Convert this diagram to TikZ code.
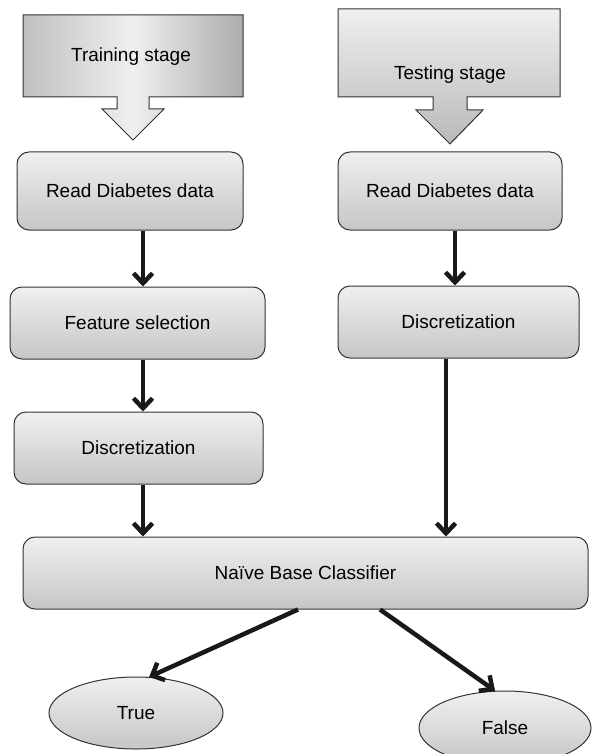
\documentclass[tikz,border=0pt]{standalone}
\usepackage{fontspec}
\setmainfont{Liberation Sans}
\usetikzlibrary{arrows.meta, positioning, shapes.geometric}

\begin{document}
\begin{tikzpicture}[x=1pt, y=-1pt,
    every node/.style={font=\fontsize{19}{22}\selectfont},
    procbox/.style={rectangle, rounded corners=12pt, draw=black!80, line width=1pt, top color=gray!12, bottom color=gray!45},
    endbox/.style={ellipse, draw=black!80, line width=1pt, top color=gray!12, bottom color=gray!45},
    stagebox/.style={draw=black!80, line width=1pt},
    flow/.style={line width=4.5pt, draw=black!90, -{Straight Barb[length=10pt,width=19pt]}}]
    \useasboundingbox (0,0) rectangle (591,754);

    % stage callouts
    \draw[stagebox, left color=gray!50, right color=gray!65, middle color=gray!12]
        (23,15) -- (243,15) -- (243,97) -- (149,97) -- (149,109) -- (164,109) -- (133,140)
        -- (102,109) -- (117,109) -- (117,97) -- (23,97) -- cycle;
    \draw[stagebox, top color=gray!12, bottom color=gray!55]
        (338,9) -- (560,9) -- (560,97) -- (467,97) -- (467,110) -- (483,110) -- (450,144)
        -- (416,110) -- (433,110) -- (433,97) -- (338,97) -- cycle;
    \node (train) at (131,57) {Training stage};
    \node (test) at (450,75) {Testing stage};

    % process boxes
    \node[procbox, minimum width=226, minimum height=78] (read1) at (130,191) {Read Diabetes data};
    \node[procbox, minimum width=224, minimum height=78] (read2) at (450,191) {Read Diabetes data};
    \node[procbox, minimum width=255, minimum height=72] (feat) at (137.5,323) {Feature selection};
    \node[procbox, minimum width=241, minimum height=72] (disc2) at (458.5,322) {Discretization};
    \node[procbox, minimum width=249, minimum height=72] (disc1) at (138.5,448) {Discretization};
    \node[procbox, minimum width=565, minimum height=72] (nbc) at (305.5,573) {Naïve Base Classifier};

    % outcomes
    \node[endbox, minimum width=174, minimum height=72] (true) at (136,713) {True};
    \node[endbox, minimum width=172, minimum height=74] (false) at (505,728) {False};

    \draw[flow] (read1.south -| 143,0) -- (feat.north -| 143,0);
    \draw[flow] (feat.south -| 143,0) -- (disc1.north -| 143,0);
    \draw[flow] (disc1.south -| 143,0) -- (nbc.north -| 143,0);
    \draw[flow] (read2.south -| 455,0) -- (disc2.north -| 455,0);
    \draw[flow] (disc2.south -| 446,0) -- (nbc.north -| 446,0);
    \draw[flow] (nbc.south -| 298,0) -- (true.70);
    \draw[flow] (nbc.south -| 380,0) -- (false.105);
\end{tikzpicture}
\end{document}
